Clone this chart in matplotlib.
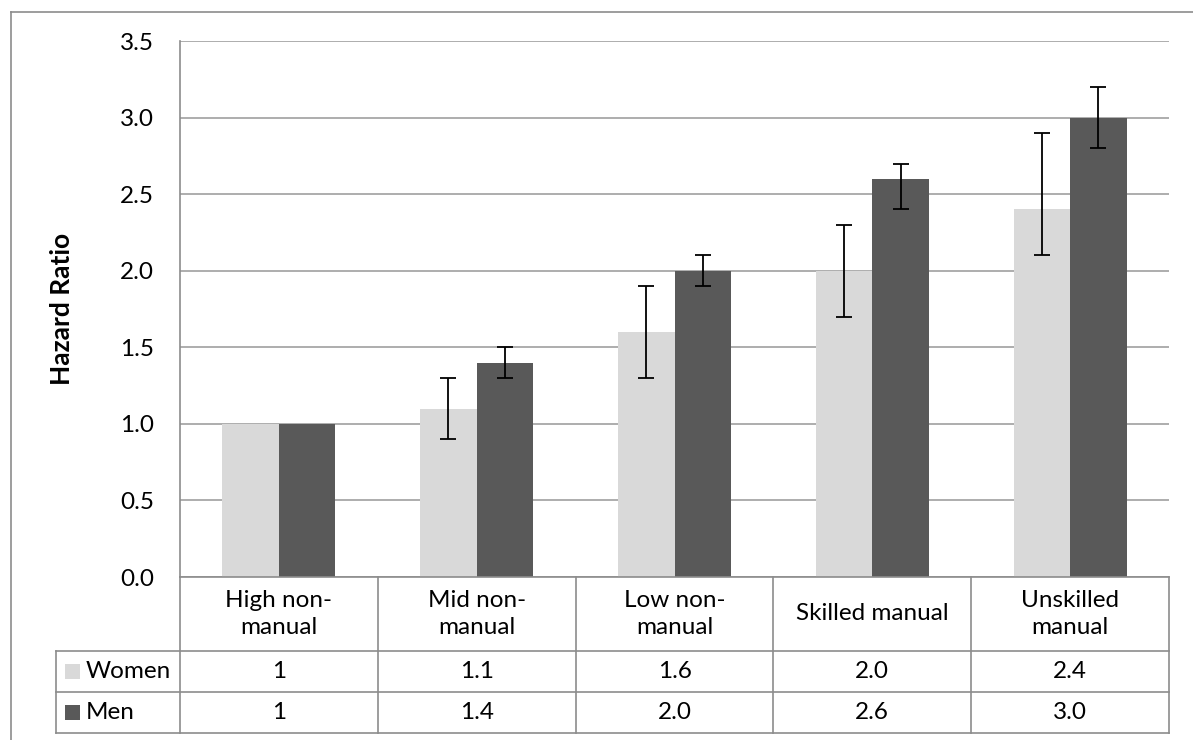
import matplotlib
matplotlib.use("Agg")
import matplotlib.pyplot as plt
from matplotlib.lines import Line2D
from matplotlib.patches import Rectangle
import matplotlib.transforms as mtransforms
import numpy as np

plt.rcParams['font.family'] = ['Lato', 'DejaVu Sans']

categories = ["High non-\nmanual", "Mid non-\nmanual", "Low non-\nmanual", "Skilled manual", "Unskilled\nmanual"]
series_names = ["Women", "Men"]
women = [1.0, 1.1, 1.6, 2.0, 2.4]
men = [1.0, 1.4, 2.0, 2.6, 3.0]
women_lo = [None, 0.9, 1.3, 1.7, 2.1]
women_hi = [None, 1.3, 1.9, 2.3, 2.9]
men_lo = [None, 1.3, 1.9, 2.4, 2.8]
men_hi = [None, 1.5, 2.1, 2.7, 3.2]
women_table = ["1", "1.1", "1.6", "2.0", "2.4"]
men_table = ["1", "1.4", "2.0", "2.6", "3.0"]
yticks = [0.0, 0.5, 1.0, 1.5, 2.0, 2.5, 3.0, 3.5]

c_women = "#D9D9D9"
c_men = "#595959"
c_grid = "#A0A0A0"
c_frame = "#8C8C8C"
fs = 17.5

W, H = 1193, 740
fig = plt.figure(figsize=(W / 100, H / 100), dpi=100)
L, R, T, B = 180, 1169, 41, 577
ax = fig.add_axes([L / W, 1 - B / H, (R - L) / W, (B - T) / H])

n = len(categories)
x = np.arange(n)
bw = 0.286
ax.bar(x - bw / 2, women, width=bw, color=c_women, zorder=2)
ax.bar(x + bw / 2, men, width=bw, color=c_men, zorder=2)

for vals, lo, hi, off in [(women, women_lo, women_hi, -bw / 2), (men, men_lo, men_hi, bw / 2)]:
    for i in range(n):
        if lo[i] is None:
            continue
        ax.errorbar(x[i] + off, vals[i], yerr=[[vals[i] - lo[i]], [hi[i] - vals[i]]],
                    fmt='none', ecolor='black', elinewidth=1.3, capsize=6, capthick=1.3, zorder=3)

ax.set_xlim(-0.5, n - 0.5)
ax.set_ylim(0, 3.5)
ax.set_yticks(yticks)
ax.set_yticklabels([f"{v:.1f}" for v in yticks], fontsize=fs)
ax.tick_params(axis='y', length=0, pad=18.7)
ax.set_xticks([])
ax.yaxis.grid(True, color=c_grid, linewidth=1.2, zorder=0)
ax.set_axisbelow(True)
for s in ['top', 'right', 'bottom']:
    ax.spines[s].set_visible(False)
ax.spines['left'].set_color(c_frame)
ax.spines['left'].set_linewidth(1.2)
ax.text((62 - L) / (R - L), 0.5, "Hazard Ratio", rotation=90, ha='center', va='center',
        fontsize=19, fontweight='bold', transform=ax.transAxes)

# table (pixel layout converted to axes fraction in y, data in x)
def ay(py):
    return (B - py) / (B - T)

def ax_x(px):
    return -0.5 + (px - L) / (R - L) * n

blend = mtransforms.blended_transform_factory(ax.transData, ax.transAxes)
y_hdr = ay(650.5)
y_w = ay(692)
y_m = ay(733)
x_lab = ax_x(56)

lk = dict(color=c_frame, linewidth=1.2, transform=blend, clip_on=False)
ax.add_line(Line2D([-0.5, n - 0.5], [0, 0], **lk))
for yy in [y_hdr, y_w, y_m]:
    ax.add_line(Line2D([x_lab, n - 0.5], [yy, yy], **lk))
for b in np.arange(n + 1) - 0.5:
    ax.add_line(Line2D([b, b], [0, y_m], **lk))
ax.add_line(Line2D([x_lab, x_lab], [y_hdr, y_m], **lk))

for i, c in enumerate(categories):
    ax.text(x[i], (0 + y_hdr) / 2, c, ha='center', va='center', fontsize=fs,
            transform=blend, linespacing=1.35)
    ax.text(x[i], (y_hdr + y_w) / 2, women_table[i], ha='center', va='center', fontsize=fs, transform=blend)
    ax.text(x[i], (y_w + y_m) / 2, men_table[i], ha='center', va='center', fontsize=fs, transform=blend)

for (name, col, y0, y1) in [(series_names[0], c_women, y_hdr, y_w), (series_names[1], c_men, y_w, y_m)]:
    yc = (y0 + y1) / 2
    kx0 = ax_x(65)
    kw = ax_x(80) - kx0
    kh = 15 / (B - T)
    ax.add_patch(Rectangle((kx0, yc - kh / 2), kw, kh, facecolor=col, edgecolor='none',
                           transform=blend, clip_on=False))
    ax.text(ax_x(86), yc, name, ha='left', va='center', fontsize=fs, transform=blend)

fig.add_artist(Line2D([10.5 / W, 10.5 / W], [0, 1 - 11.5 / H], color=c_frame, linewidth=1.2,
                      transform=fig.transFigure))
fig.add_artist(Line2D([10.5 / W, 1], [1 - 11.5 / H, 1 - 11.5 / H], color=c_frame, linewidth=1.2,
                      transform=fig.transFigure))

fig.savefig("out.png", dpi=100, facecolor='white')
